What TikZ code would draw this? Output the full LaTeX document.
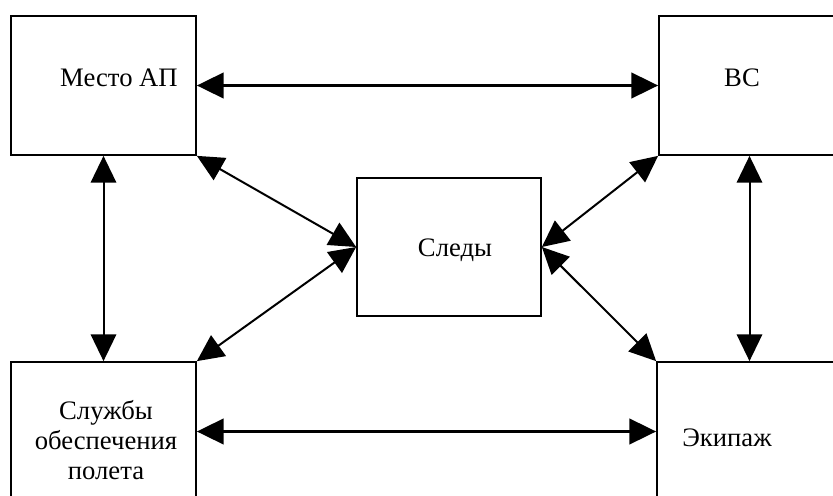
\documentclass[tikz,border=0pt]{standalone}
\usepackage{fontspec}
\setmainfont{Liberation Serif}
\usetikzlibrary{arrows.meta}
\begin{document}
\begin{tikzpicture}[x=0.75pt,y=-0.75pt]

\tikzset{
	blok/.style={draw, line width=1.3pt, rectangle, minimum width=138.75pt, minimum height=104.25pt, inner sep=0pt},
	nadpis/.style={font=\fontsize{20}{22.5}\selectfont, align=center, inner sep=0pt},
	svyaz/.style={line width=1.5pt, {Triangle[length=20pt,width=19pt]}-{Triangle[length=20pt,width=19pt]}}
}

\useasboundingbox (0,0) rectangle (833,496);
\clip (0,0) rectangle (833,496);

\node[blok] (mesto) at (103.5,85.5) {};
\node[blok] (vs) at (751.5,85.5) {};
\node[blok, minimum width=138pt, minimum height=103.5pt] (sledy) at (449,247) {};
\node[blok] (sluzhby) at (103.5,431.5) {};
\node[blok] (ekipazh) at (749.5,431.5) {};

\node[nadpis, anchor=base] at (119,86) {Место АП};
\node[nadpis, anchor=base] at (742,86) {ВС};
\node[nadpis, anchor=base] at (455,256) {Следы};
\node[nadpis] at (106,440) {Службы\\обеспечения\\полета};
\node[nadpis, anchor=base] at (727,446) {Экипаж};

\draw[svyaz, line width=2.2pt] (mesto.east) -- (vs.west);
\draw[svyaz, line width=2.2pt] (sluzhby.east) -- (ekipazh.west);
\draw[svyaz] (mesto.south) -- (sluzhby.north);
\draw[svyaz] ([xshift=-1.5pt]vs.south) -- (ekipazh.north);
\draw[svyaz] (mesto.south east) -- (sledy.west);
\draw[svyaz] (sluzhby.north east) -- (sledy.west);
\draw[svyaz] (vs.south west) -- (sledy.east);
\draw[svyaz] (ekipazh.north west) -- (sledy.east);

\end{tikzpicture}
\end{document}
